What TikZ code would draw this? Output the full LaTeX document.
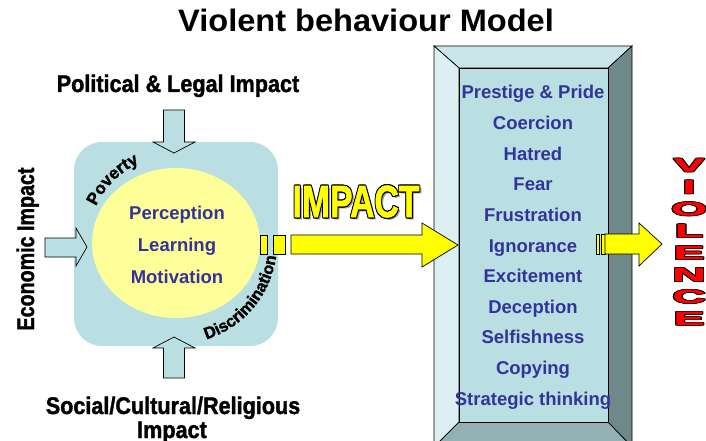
\documentclass[tikz,border=0pt]{standalone}
\usepackage{fontspec}
\setmainfont{Liberation Sans}
\newfontfamily\heavyfont{Liberation Sans Bold}[FakeBold=1.6]
\usetikzlibrary{decorations.text}
\definecolor{boxblue}{HTML}{B9DFE3}
\definecolor{circyel}{HTML}{FFFF99}
\definecolor{txtblue}{HTML}{333399}
\definecolor{bevtop}{HTML}{CBE6EA}
\definecolor{bevleft}{HTML}{DCEFF2}
\definecolor{bevright}{HTML}{6F898A}
\definecolor{bevbot}{HTML}{93B0B4}
\definecolor{arrowyel}{HTML}{FFFF00}
\definecolor{violred}{HTML}{FF0000}
\definecolor{shadowgray}{HTML}{9A9A9A}
\newcommand{\outtext}[4]{%
  \leavevmode
  \rlap{\kern#1\textcolor{#2}{#4}}%
  \rlap{\kern-#1\textcolor{#2}{#4}}%
  \rlap{\raisebox{#1}{\textcolor{#2}{#4}}}%
  \rlap{\raisebox{-#1}{\textcolor{#2}{#4}}}%
  \rlap{\kern#1\raisebox{#1}{\textcolor{#2}{#4}}}%
  \rlap{\kern-#1\raisebox{#1}{\textcolor{#2}{#4}}}%
  \rlap{\kern#1\raisebox{-#1}{\textcolor{#2}{#4}}}%
  \rlap{\kern-#1\raisebox{-#1}{\textcolor{#2}{#4}}}%
  \textcolor{#3}{#4}}
\tikzset{
  bigblack/.style={anchor=base, inner sep=0pt, font=\heavyfont\fontsize{24}{24}\selectfont},
  coretext/.style={anchor=base, inner sep=0pt, text=txtblue, font=\bfseries\fontsize{18.5}{18.5}\selectfont},
  listtext/.style={anchor=base, inner sep=0pt, text=txtblue, font=\bfseries\fontsize{18.5}{18.5}\selectfont},
  bluearrow/.style={fill=boxblue, draw=black, line width=0.7pt, line join=miter},
  yelarrow/.style={fill=arrowyel, draw=black, line width=0.7pt, line join=miter},
  bevel/.style={draw=black, line width=0.7pt, line join=miter},
  violletter/.style={anchor=center, inner sep=0pt, font=\heavyfont\fontsize{19}{19}\selectfont},
}
\begin{document}
\begin{tikzpicture}[x=1pt, y=1pt]
\clip (0,0) rectangle (706,-441);
\useasboundingbox (0,0) rectangle (706,-441);

% title
\node[anchor=base, inner sep=0pt, font=\bfseries\fontsize{31}{31}\selectfont] (title) at (366,-32) {\scalebox{1.05}[1]{Violent behaviour Model}};

% left cluster
\fill[boxblue, rounded corners=28pt] (74,-142) rectangle (278,-346);
\fill[circyel] (176,-243) ellipse [x radius=84, y radius=75];

\node[coretext] (perc) at (177,-219) {Perception};
\node[coretext] (learn) at (177,-251) {Learning};
\node[coretext] (motiv) at (177,-283) {Motivation};

\path[decorate, decoration={text along path, text align=center,
  text format delimiters={|}{|},
  text={|\heavyfont\fontsize{17}{17}\selectfont|Poverty}}]
  (176,-243) ++(158:88) arc[start angle=158, end angle=112, radius=88];
\path[decorate, decoration={text along path, text align=center,
  text format delimiters={|}{|},
  text={|\heavyfont\fontsize{16.5}{16.5}\selectfont|Discrimination}}]
  (176,-243) ++(-78:101) arc[start angle=-78, end angle=-2, radius=101];

% blue block arrows
\draw[bluearrow] (163.5,-110) -- (184.5,-110) -- (184.5,-142) -- (195,-142) -- (174,-153) -- (153,-142) -- (163.5,-142) -- cycle;
\draw[bluearrow] (163.5,-378) -- (184.5,-378) -- (184.5,-348) -- (195,-348) -- (174,-337) -- (153,-348) -- (163.5,-348) -- cycle;
\draw[bluearrow] (45,-238) -- (76,-238) -- (76,-228) -- (87,-247) -- (76,-266) -- (76,-257) -- (45,-257) -- cycle;

\node[bigblack] (pol) at (178,-92) {\scalebox{0.9}[1]{Political \& Legal Impact}};
\node[bigblack, rotate=90] (eco) at (34,-249) {\scalebox{0.82}[1]{Economic Impact}};
\node[bigblack] (soc) at (173,-414) {\scalebox{0.9}[1]{Social/Cultural/Religious}};
\node[bigblack] (socb) at (172,-438) {\scalebox{0.9}[1]{Impact}};

% right bevelled box
\draw[bevel, fill=bevtop] (434,-46) -- (632,-46) -- (608,-68) -- (459,-68) -- cycle;
\draw[bevel, fill=bevleft] (434,-46) -- (459,-68) -- (459,-422) -- (434,-447) -- cycle;
\draw[bevel, fill=bevright] (632,-46) -- (632,-447) -- (608,-422) -- (608,-68) -- cycle;
\draw[bevel, fill=bevbot] (434,-447) -- (459,-422) -- (608,-422) -- (632,-447) -- cycle;
\draw[bevel, fill=boxblue] (459,-68) rectangle (608,-422);

\foreach \t [count=\i from 0] in {Prestige \& Pride, Coercion, Hatred, Fear, Frustration, Ignorance, Excitement, Deception, Selfishness, Copying, Strategic thinking}{
  \node[listtext] (item\i) at (533,{-99-30.6*\i}) {\t};
}

% IMPACT arrow
\draw[yelarrow] (260,-235) rectangle (267,-254);
\draw[yelarrow] (273,-235) rectangle (285,-254);
\draw[yelarrow] (291,-235) -- (422,-235) -- (422,-223) -- (458,-245) -- (422,-267) -- (422,-254) -- (291,-254) -- cycle;
\node[anchor=base, inner sep=0pt, font=\heavyfont\fontsize{45}{45}\selectfont] (impsh) at (358,-219) {\scalebox{0.75}[1]{\textcolor{shadowgray}{IMPACT}}};
\node[anchor=base, inner sep=0pt, font=\heavyfont\fontsize{45}{45}\selectfont] (imp) at (356,-217) {\scalebox{0.75}[1]{\outtext{1pt}{black}{arrowyel}{IMPACT}}};

% right small arrow
\draw[yelarrow] (596,-234) rectangle (599,-254);
\draw[yelarrow] (601,-234) rectangle (605,-254);
\draw[yelarrow] (605,-234) -- (639,-234) -- (639,-223) -- (662,-244) -- (639,-266) -- (639,-254) -- (605,-254) -- cycle;

% VIOLENCE
\foreach \l [count=\i from 0] in {V,I,O,L,E,N,C,E}{
  \node[violletter] (v\i) at (689,{-165-21.9*\i}) {\scalebox{2.4}[1]{\outtext{0.5pt}{black}{violred}{\l}}};
}
\end{tikzpicture}
\end{document}
